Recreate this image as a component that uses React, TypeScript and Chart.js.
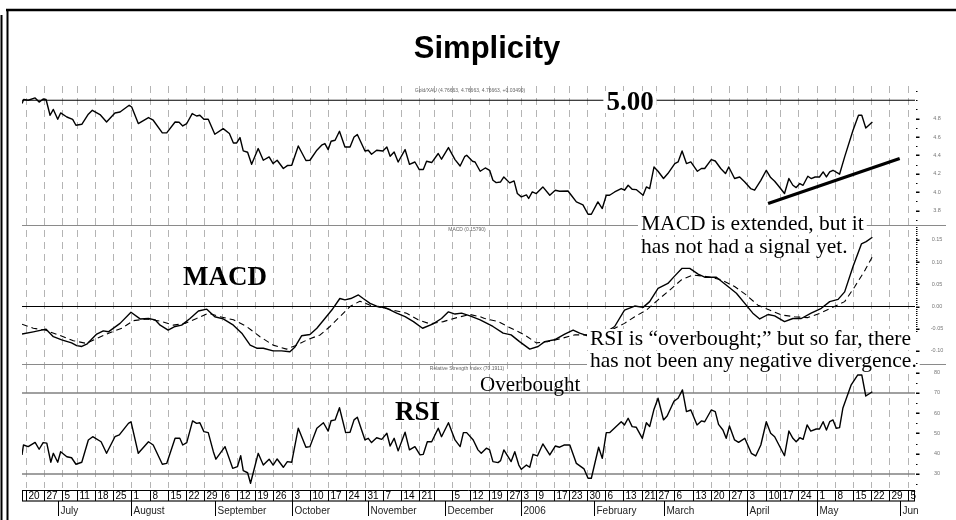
import React, { useEffect, useRef } from "react";
import { Chart, registerables } from "chart.js";
Chart.register(...registerables);

// ---- Time axis (trading-day index; 0 = Jun 17 2005) ----
const weekDays = [1,6,11,15,20,25,30,35,40,45,50,55,59,64,69,74,79,84,89,94,99,104,109,113,118,123,128,133,137,141,146,150,155,160,165,170,174,179,184,189,194,199,204,208,213,218,223,228,233,238,243];
const weekLabels = ["20","27","5","11","18","25","1","8","15","22","29","6","12","19","26","3","10","17","24","31","7","14","21","","5","12","19","27","3","9","17","23","30","6","13","21","27","6","13","20","27","3","10","17","24","1","8","15","22","29","5"];
const monthDays = [10,30,53,74,95,116,137,157,176,199,218,241];
const monthLabels = ["July","August","September","October","November","December","2006","February","March","April","May","Jun"];

// ---- Gold/XAU ratio ----
const priceDays = [0,0.5,1.7,3.6,4.7,5.8,6.6,7.7,8.6,9.8,10.6,12.3,13.9,14.8,16.4,18.2,19.3,21.4,23.2,25.5,26.9,29.4,30.1,31.9,34.7,36.0,38.5,39.7,42.0,43.1,44.1,45.2,46.7,47.9,48.8,49.9,51.1,52.9,55.2,56.9,58.0,58.9,59.8,60.7,61.9,63.0,64.8,66.2,67.8,68.9,70.0,71.7,72.8,74.0,75.8,77.9,79.0,80.9,82.2,83.1,84.0,84.8,85.9,87.1,88.6,90.0,91.1,92.0,94.1,95.0,95.9,97.3,99.0,100.1,101.0,102.1,103.2,105.1,106.3,107.8,109.0,110.1,111.0,112.4,114.2,115.1,117.0,118.8,120.2,121.5,122.0,123.6,124.3,125.7,127.1,128.3,129.2,130.1,131.3,132.2,133.8,135.0,135.9,137.0,138.4,139.0,140.0,141.1,142.9,144.8,146.3,147.5,149.8,150.7,152.1,153.9,155.3,156.2,158.0,159.2,160.3,161.2,162.6,164.4,165.3,166.3,167.4,168.5,170.4,171.3,172.2,173.4,174.5,176.0,177.2,179.1,180.0,181.1,182.3,183.5,185.3,186.4,187.3,189.1,190.2,191.7,193.0,193.9,195.5,196.9,198.3,199.9,201.0,202.7,204.2,205.4,206.5,207.4,209.2,210.4,211.5,212.4,213.4,214.3,215.6,216.5,217.6,218.8,219.8,220.7,221.6,222.5,224.3,225.7,228.0,229.5,230.4,231.5,233.3];
const priceValues = [4.964,5.01,5.0,5.025,4.98,5.014,5.008,4.837,4.90,4.793,4.862,4.818,4.793,4.728,4.739,4.848,4.891,4.845,4.764,4.862,4.873,4.946,4.927,4.747,4.812,4.783,4.645,4.645,4.764,4.761,4.721,4.747,4.855,4.829,4.837,4.793,4.793,4.63,4.692,4.638,4.536,4.536,4.595,4.449,4.435,4.304,4.475,4.348,4.384,4.312,4.348,4.258,4.29,4.293,4.503,4.345,4.348,4.457,4.511,4.529,4.464,4.554,4.565,4.663,4.492,4.492,4.601,4.627,4.449,4.457,4.413,4.457,4.449,4.492,4.391,4.438,4.329,4.464,4.304,4.329,4.247,4.247,4.337,4.323,4.421,4.359,4.486,4.355,4.286,4.391,4.402,4.337,4.329,4.228,4.264,4.239,4.13,4.105,4.112,4.166,4.102,4.123,3.986,3.95,3.971,3.932,4.004,3.986,4.058,3.967,4.022,4.011,4.014,3.967,3.895,3.863,3.761,3.761,3.895,3.823,3.967,3.967,4.003,4.04,4.022,4.076,4.033,4.029,3.967,4.058,4.04,4.275,4.228,4.149,4.203,4.312,4.33,4.449,4.312,4.33,4.228,4.258,4.258,4.355,4.34,4.258,4.203,4.275,4.149,4.166,4.112,4.04,4.022,4.13,4.239,4.16,4.12,4.076,3.986,4.149,4.076,4.051,4.095,4.076,4.174,4.149,4.166,4.166,4.221,4.166,4.221,4.239,4.196,4.384,4.674,4.837,4.837,4.699,4.764];
const trendDays = [204.7, 240.8];
const trendValues = [3.877, 4.366];
const priceLevel = 5.0;
const priceTicks = [3.8, 4.0, 4.2, 4.4, 4.6, 4.8];

// ---- MACD ----
const macdDays = [0.0,3.1,6.6,8.6,10.9,13.6,15.0,16.4,17.9,20.5,22.3,23.7,26.9,29.9,32.4,34.7,36.5,37.9,40.1,42.0,43.8,46.1,48.4,50.7,52.9,55.2,58.0,60.3,62.6,64.4,66.2,68.9,71.2,73.5,74.9,76.7,79.0,80.9,83.1,85.0,87.2,88.6,90.2,92.3,93.6,95.5,97.3,100.1,102.8,105.1,107.4,109.9,112.8,115.1,117.0,118.8,120.6,122.9,125.7,129.2,132.0,134.2,136.5,139.3,141.6,143.4,146.1,148.9,151.2,153.0,155.8,159.4,162.6,165.3,168.1,170.4,172.2,174.5,177.2,179.1,181.1,183.2,185.5,187.3,190.5,193.7,196.0,198.7,200.5,202.4,204.7,206.5,209.2,211.5,213.8,216.5,219.3,221.6,223.9,225.7,228.0,230.3,231.6,233.3];
const macdValues = [-0.062,-0.057,-0.051,-0.068,-0.075,-0.082,-0.088,-0.090,-0.084,-0.062,-0.055,-0.057,-0.038,-0.013,-0.028,-0.027,-0.030,-0.042,-0.053,-0.045,-0.042,-0.027,-0.010,-0.006,-0.023,-0.028,-0.042,-0.060,-0.087,-0.094,-0.094,-0.100,-0.100,-0.102,-0.091,-0.066,-0.063,-0.049,-0.027,-0.008,0.018,0.015,0.018,0.026,0.018,0.007,0.001,-0.004,-0.015,-0.023,-0.034,-0.049,-0.039,-0.027,-0.012,-0.017,-0.015,-0.021,-0.030,-0.045,-0.060,-0.064,-0.079,-0.096,-0.090,-0.079,-0.075,-0.062,-0.053,-0.060,-0.068,-0.062,-0.045,-0.008,0.001,-0.002,0.011,0.041,0.052,0.069,0.086,0.086,0.073,0.066,0.066,0.045,0.030,0.003,-0.015,-0.028,-0.018,-0.021,-0.034,-0.027,-0.027,-0.015,-0.004,0.011,0.016,0.033,0.090,0.141,0.146,0.156];
const signalDays = [0.0,3.1,6.3,10.0,14.1,17.6,20.5,24.1,27.4,30.5,34.2,37.9,41.5,44.7,47.9,51.1,54.3,58.0,61.6,65.3,68.9,72.6,75.4,78.5,81.8,84.5,87.2,90.0,92.7,95.5,99.1,102.8,105.5,108.7,111.9,115.6,119.3,122.9,125.7,126.9,130.6,134.2,137.9,141.1,144.3,148.0,151.6,154.4,158.6,161.9,165.3,168.1,171.3,174.5,177.7,180.9,184.1,188.2,191.9,195.5,198.7,201.9,205.1,208.3,212.0,215.6,219.3,222.9,225.7,228.5,231.3,233.3];
const signalValues = [-0.040,-0.049,-0.053,-0.064,-0.077,-0.083,-0.072,-0.059,-0.049,-0.032,-0.028,-0.033,-0.042,-0.038,-0.027,-0.015,-0.023,-0.030,-0.045,-0.068,-0.087,-0.096,-0.087,-0.074,-0.064,-0.045,-0.023,0.000,0.012,0.003,-0.003,-0.010,-0.015,-0.030,-0.039,-0.034,-0.025,-0.018,-0.023,-0.027,-0.034,-0.049,-0.064,-0.082,-0.079,-0.072,-0.064,-0.064,-0.062,-0.052,-0.038,-0.023,-0.008,0.015,0.037,0.060,0.071,0.067,0.060,0.045,0.026,0.003,-0.008,-0.019,-0.023,-0.025,-0.014,0.000,0.011,0.045,0.082,0.112];
const macdTicks = [-0.10, -0.05, 0.0, 0.05, 0.10, 0.15];

// ---- RSI ----
const rsiDays = [0.0,0.4,1.7,3.6,4.7,5.8,6.8,7.9,8.6,9.8,10.6,12.3,13.6,14.8,16.4,18.2,19.4,21.7,23.2,25.5,26.7,29.2,29.9,31.9,34.7,36.0,38.5,39.7,42.0,43.3,44.1,45.2,46.8,47.9,48.8,49.9,51.1,52.5,53.2,55.7,57.8,59.1,60.0,60.7,61.9,62.7,64.8,66.2,67.8,68.9,70.0,71.7,72.8,74.0,75.8,77.9,79.0,80.9,82.7,84.0,84.8,85.9,87.1,88.8,90.0,91.1,92.0,94.1,95.0,95.9,97.3,98.7,100.1,101.0,102.1,103.2,105.1,106.3,107.8,109.2,110.1,111.2,112.4,114.2,115.1,117.0,118.8,120.2,121.1,122.0,123.8,125.1,126.0,127.4,128.3,129.2,130.6,131.3,132.2,134.2,135.2,136.3,137.0,138.4,139.3,140.2,141.4,142.9,144.8,146.3,147.5,148.7,150.3,152.1,154.2,155.3,156.2,158.2,159.2,160.3,161.2,162.8,164.4,165.3,166.3,167.4,168.5,170.2,171.3,172.2,173.4,174.5,176.0,177.0,178.9,180.0,181.2,182.3,183.5,185.2,186.4,187.3,189.1,190.2,191.1,192.3,193.2,194.1,195.5,196.6,198.3,200.1,201.3,202.7,204.2,205.4,206.5,209.2,210.4,211.5,212.4,213.4,214.3,215.4,216.4,217.9,218.8,219.8,220.7,221.6,222.5,223.4,224.3,225.2,227.5,229.3,230.4,231.5,233.3];
const rsiValues = [39.4,44.3,43.5,45.6,42.2,45.5,45.2,35.8,40.2,35.8,41.0,38.5,38.0,34.8,35.8,46.8,48.4,45.9,40.2,48.4,49.3,55.0,55.8,40.2,45.9,44.3,34.8,35.2,47.6,47.6,44.3,45.5,56.2,55.0,55.3,50.9,50.4,41.0,37.3,43.5,32.8,33.6,39.0,31.6,30.6,25.4,40.2,34.4,37.3,34.4,37.4,33.3,36.1,35.8,52.6,43.2,43.5,52.6,55.3,51.2,56.3,56.7,62.7,50.4,50.6,56.7,58.0,46.8,47.6,45.5,47.9,47.1,50.1,43.8,47.6,41.4,50.6,41.9,43.5,39.4,39.7,45.9,45.9,52.6,48.4,55.3,46.8,43.5,50.4,50.4,46.8,41.9,40.2,42.7,41.9,36.1,35.6,36.6,41.9,36.1,41.0,34.4,32.3,34.4,33.3,39.7,38.9,44.8,39.4,43.8,43.2,44.3,44.3,35.2,32.5,27.9,27.9,43.2,37.7,50.4,50.4,53.1,55.8,54.2,57.5,53.4,53.1,47.6,55.3,53.4,62.0,67.4,56.7,58.6,66.0,67.4,71.5,60.8,61.6,54.2,56.2,55.8,61.6,60.8,54.5,51.7,47.6,53.7,46.8,45.6,47.6,40.2,38.9,44.3,55.8,50.1,48.4,39.0,51.2,47.6,45.9,47.9,47.1,54.2,51.2,52.2,52.2,55.8,51.7,55.8,56.7,52.6,52.9,62.4,74.0,78.9,78.9,68.5,70.6];
const rsiLevels = [70, 30];
const rsiTicks = [30, 40, 50, 60, 70, 80];

const SERIF = '"Liberation Serif", "Times New Roman", serif';
const SANS = '"Liberation Sans", Arial, sans-serif';

function pts(days: number[], vals: number[]) {
  const n = Math.min(days.length, vals.length);
  const out: { x: number; y: number }[] = [];
  for (let i = 0; i < n; i++) out.push({ x: days[i], y: vals[i] });
  return out;
}

function hline(ctx: any, y: number, x0: number, x1: number, color: string, w: number) {
  ctx.strokeStyle = color;
  ctx.lineWidth = w;
  ctx.beginPath();
  ctx.moveTo(x0, y);
  ctx.lineTo(x1, y);
  ctx.stroke();
}

function vline(ctx: any, x: number, y0: number, y1: number, color: string, w: number) {
  ctx.strokeStyle = color;
  ctx.lineWidth = w;
  ctx.beginPath();
  ctx.moveTo(x, y0);
  ctx.lineTo(x, y1);
  ctx.stroke();
}

function boxedText(ctx: any, text: string, x: number, base: number, font: string, asc: number, desc: number, align: string = "left") {
  ctx.font = font;
  ctx.textAlign = align;
  ctx.textBaseline = "alphabetic";
  const w = ctx.measureText(text).width;
  const left = align === "center" ? x - w / 2 : x;
  ctx.fillStyle = "#fff";
  ctx.fillRect(left - 3, base - asc, w + 6, asc + desc);
  ctx.fillStyle = "#000";
  ctx.fillText(text, x, base);
}

const overlay = {
  id: "overlay",
  beforeDatasetsDraw(chart: any) {
    const { ctx, chartArea: ca, scales } = chart;
    const { x, yP, yM, yR } = scales;
    ctx.save();
    // weekly dashed grid
    ctx.setLineDash([7, 5]);
    weekDays.forEach((d) => {
      const px = Math.round(x.getPixelForValue(d)) + 0.5;
      vline(ctx, px, ca.top, ca.bottom, "#b4b4b4", 1);
    });
    ctx.setLineDash([]);
    // reference lines
    hline(ctx, yP.getPixelForValue(priceLevel), ca.left, ca.right, "#000", 1.2);
    hline(ctx, Math.round(yP.bottom) + 0.5, ca.left, 946, "#8a8a8a", 1);
    hline(ctx, yM.getPixelForValue(0), ca.left, ca.right, "#000", 1.2);
    hline(ctx, Math.round(yM.bottom) + 0.5, ca.left, 946, "#8a8a8a", 1);
    rsiLevels.forEach((v) => hline(ctx, yR.getPixelForValue(v), ca.left, ca.right, "#808080", 1.6));
    ctx.restore();
  },
  afterDatasetsDraw(chart: any) {
    const { ctx, chartArea: ca, scales } = chart;
    const { x, yP, yM, yR } = scales;
    ctx.save();

    // small panel captions
    ctx.fillStyle = "#666";
    ctx.font = `5px ${SANS}`;
    ctx.textAlign = "center";
    ctx.textBaseline = "middle";
    ctx.fillText("Gold/XAU (4.76663, 4.76663, 4.76663, +0.03490)", 470, 91);
    ctx.fillText("MACD (0.15790)", 467, 230);
    ctx.fillText("Relative Strength Index (70.1911)", 467, 369);

    // annotations
    boxedText(ctx, "5.00", 630, 110, `bold 27px ${SERIF}`, 19, 3, "center");
    ctx.fillStyle = "#000";
    ctx.textAlign = "left";
    ctx.font = `bold 27px ${SERIF}`;
    ctx.fillText("MACD", 183, 285);
    ctx.fillText("RSI", 395, 420);
    ctx.font = `21px ${SERIF}`;
    ctx.fillText("Overbought", 480, 391);
    const f = `21.5px ${SERIF}`;
    boxedText(ctx, "MACD is extended, but it", 641, 230, f, 16, 5);
    boxedText(ctx, "has not had a signal yet.", 641, 253, f, 16, 5);
    boxedText(ctx, "RSI is \u201Coverbought;\u201D but so far, there", 590, 345, f, 16, 5);
    boxedText(ctx, "has not been any negative divergence.", 590, 367, f, 16, 5);

    // right-hand value axes
    const tx = ca.right;
    const drawAxis = (scale: any, ticks: number[], minor: number[], fmt: (v: number) => string) => {
      ctx.fillStyle = "#000";
      minor.forEach((v) => {
        const y = scale.getPixelForValue(v);
        ctx.fillRect(tx + 1, Math.round(y), 1.5, 1);
      });
      ticks.forEach((v) => {
        const y = scale.getPixelForValue(v);
        ctx.fillStyle = "#000";
        ctx.fillRect(tx + 1, Math.round(y) - 0.5, 3.5, 1.5);
        ctx.fillStyle = "#777";
        ctx.font = `5.5px ${SANS}`;
        ctx.textAlign = "center";
        ctx.textBaseline = "middle";
        ctx.fillText(fmt(v), 937, y);
      });
    };
    const pMinor: number[] = [];
    for (let v = 3.7; v <= 5.11; v += 0.1) pMinor.push(v);
    const mMinor: number[] = [];
    for (let v = -0.055; v <= 0.181; v += 0.005) mMinor.push(v);
    const rMinor: number[] = [];
    for (let v = 25; v <= 85; v += 5) rMinor.push(v);
    drawAxis(yP, priceTicks, pMinor, (v) => v.toFixed(1));
    drawAxis(yM, macdTicks, mMinor, (v) => v.toFixed(2));
    drawAxis(yR, rsiTicks, rMinor, (v) => String(v));

    // date axis
    const top = 490.5;
    const mid = 501;
    hline(ctx, top, ca.left, ca.right, "#000", 1);
    hline(ctx, mid, ca.left, ca.right, "#6e6e6e", 2);
    vline(ctx, ca.left + 0.5, top, mid, "#000", 1);
    vline(ctx, ca.right - 0.5, top, mid, "#000", 1);
    ctx.font = `10px ${SANS}`;
    ctx.textAlign = "left";
    ctx.textBaseline = "alphabetic";
    weekDays.forEach((d, i) => {
      const px = Math.round(x.getPixelForValue(d)) + 0.5;
      vline(ctx, px, top, mid, "#000", 1);
      ctx.fillStyle = "#000";
      ctx.fillText(weekLabels[i], px + 2, 499);
    });
    monthDays.forEach((d, i) => {
      const px = Math.round(x.getPixelForValue(d)) + 0.5;
      vline(ctx, px, mid, 516, "#000", 1);
      ctx.fillStyle = "#222";
      ctx.fillText(monthLabels[i], px + 2, 514);
    });

    // title
    ctx.fillStyle = "#000";
    ctx.font = `bold 31px ${SANS}`;
    ctx.textAlign = "center";
    ctx.fillText("Simplicity", 487, 58);

    // frame
    hline(ctx, 10, 6, 956, "#000", 2.5);
    vline(ctx, 7.5, 9, 520, "#000", 2);
    vline(ctx, 1.5, 15, 520, "#000", 2);
    ctx.restore();
  },
};

export default function App() {
  const ref = useRef<HTMLCanvasElement>(null);
  useEffect(() => {
    const canvas = ref.current;
    if (!canvas) return;
    const line = (data: any, axis: string, w: number, extra: any = {}) => ({
      data,
      yAxisID: axis,
      borderColor: "#000",
      backgroundColor: "#000",
      borderWidth: w,
      pointRadius: 0,
      tension: 0,
      fill: false,
      borderJoinStyle: "round",
      ...extra,
    });
    const chart = new Chart(canvas, {
      type: "line",
      data: {
        datasets: [
          line(pts(priceDays, priceValues), "yP", 1.4),
          line(pts(trendDays, trendValues), "yP", 3.2, { borderCapStyle: "butt" }),
          line(pts(macdDays, macdValues), "yM", 1.4),
          line(pts(signalDays, signalValues), "yM", 1.1, { borderDash: [6, 4] }),
          line(pts(rsiDays, rsiValues), "yR", 1.4),
        ],
      },
      options: {
        responsive: false,
        animation: false,
        devicePixelRatio: 1,
        events: [],
        layout: { padding: { left: 22, right: 41, top: 86, bottom: 32 } },
        plugins: { legend: { display: false }, tooltip: { enabled: false }, title: { display: false } },
        scales: {
          x: { type: "linear", display: false, min: 0, max: 245 },
          yP: { type: "linear", display: false, position: "right", stack: "panes", stackWeight: 139, min: 3.644, max: 5.155 },
          yM: { type: "linear", display: false, position: "right", stack: "panes", stackWeight: 139, min: -0.1295, max: 0.1836 },
          yR: { type: "linear", display: false, position: "right", stack: "panes", stackWeight: 124, min: 23.07, max: 84.3 },
        },
      } as any,
      plugins: [overlay],
    });
    return () => chart.destroy();
  }, []);
  return (
    <div style={{ position: "fixed", left: 0, top: 0, width: 956, height: 520, background: "#fff" }}>
      <canvas ref={ref} width={956} height={520} style={{ display: "block" }} />
    </div>
  );
}
